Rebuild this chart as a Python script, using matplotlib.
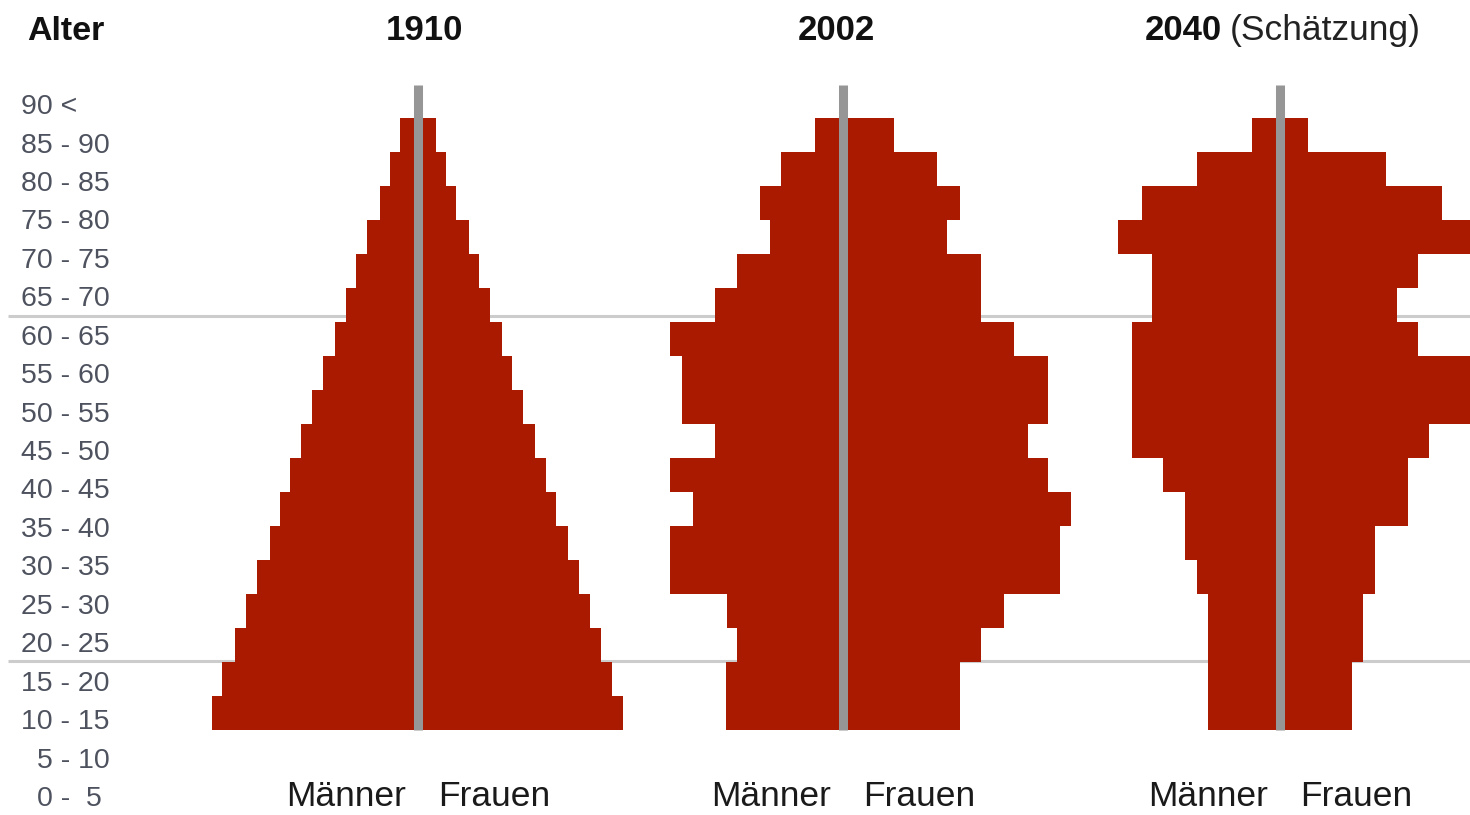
import matplotlib
matplotlib.use("Agg")
import matplotlib.pyplot as plt
from matplotlib import font_manager
from matplotlib.transforms import blended_transform_factory
import numpy as np

# ---------------- data (relative population per 5-year group, bottom-up: 0-5 ... 85-90)
age_starts = list(range(0, 90, 5))
age_labels = ["0 -  5", "5 - 10", "10 - 15", "15 - 20", "20 - 25", "25 - 30", "30 - 35",
              "35 - 40", "40 - 45", "45 - 50", "50 - 55", "55 - 60", "60 - 65",
              "65 - 70", "70 - 75", "75 - 80", "80 - 85", "85 - 90", "90 <"]
years = ["1910", "2002", "2040"]
year_notes = ["", "", "(Schätzung)"]

men_1910 = [206, 196, 183.5, 172.5, 162, 149, 139, 128.5, 117, 106, 95, 83, 72.5, 62.5, 51, 38.5, 28.5, 18]
women_1910 = [205, 194, 183, 171.5, 161, 150, 138, 127.5, 116.5, 105, 94, 84, 71.5, 61, 51, 38, 28, 17.5]

men_2002 = [117.5, 117.5, 106, 116, 173, 173, 150, 173, 128.5, 161, 161, 173, 128.5, 106, 73.5, 83, 62.5, 28.5]
women_2002 = [116.5, 116.5, 138, 160.5, 216.5, 216.5, 228, 205, 185, 205, 205, 171, 138, 138, 104, 116.5, 94, 50.5]

men_2040 = [71.7, 71.7, 71.7, 71.7, 83.3, 95, 95, 116.7, 148.3, 148.3, 148.3, 148.3, 128.3, 128.3, 161.7, 138.3, 83.3, 27.7]
women_2040 = [71.7, 71.7, 83.3, 83.3, 95, 95, 128.3, 128.3, 149.3, 200, 200, 138.3, 116.7, 138.3, 200, 161.7, 105.7, 28.3]

men = [men_1910, men_2002, men_2040]
women = [women_1910, women_2002, women_2040]

# ---------------- layout / style
W, H = 1470, 815
centers = [418.5, 843.5, 1280]
BAR = "#aa1a00"
CENTER_LINE = "#969696"
GRID = "#cccccc"
LABEL = "#4d525e"


def pick_font(cands):
    names = {f.name for f in font_manager.fontManager.ttflist}
    for c in cands:
        if c in names:
            return c
    return "DejaVu Sans"


FONT = pick_font(["Liberation Sans", "Arial", "DejaVu Sans"])
plt.rcParams["font.family"] = [FONT, "DejaVu Sans"]

fig = plt.figure(figsize=(W / 100, H / 100), dpi=100)
ax = fig.add_axes([0, 0, 1, 1])
ax.set_xlim(0, W)
# age 0 sits at pixel 730 from top, 6.8 px per year
px_per_year = 6.8
y0_px = H - 730
ax.set_ylim(-y0_px / px_per_year, (H - y0_px) / px_per_year)
ax.axis("off")

# label positions (in age units) - labels are spaced slightly wider than the bars
label_step = 38.44 / px_per_year
label_first = (730 - 796) / px_per_year
label_pos = [label_first + i * label_step for i in range(len(age_labels))]

# horizontal separator lines (between 15-20/20-25 and 60-65/65-70 labels)
for i in (3, 12):
    yl = (label_pos[i] + label_pos[i + 1]) / 2
    ax.hlines(yl, 8, W, color=GRID, lw=2.2, zorder=1)

for c, m, f in zip(centers, men, women):
    ax.barh(age_starts, -np.array(m), left=c, height=5, align="edge",
            color=BAR, linewidth=0, zorder=2)
    ax.barh(age_starts, np.array(f), left=c, height=5, align="edge",
            color=BAR, linewidth=0, zorder=2)
    ax.vlines(c, 0, (730 - 85) / px_per_year, color=CENTER_LINE, lw=6.5, zorder=3)

# age labels
for lab, yp in zip(age_labels, label_pos):
    x = 21
    if lab.startswith(("0 ", "5 ")):
        x = 37
    ax.text(x, yp, lab, ha="left", va="center_baseline", fontsize=20.5,
            color=LABEL)

# titles
tr = blended_transform_factory(ax.transData, fig.transFigure)
ty = 1 - 40 / H
ax.text(27, ty, "Alter", transform=tr, ha="left", va="baseline", fontsize=24.5,
        fontweight="bold", color="#111111")
title_x = [424, 836, 1185]
for x, yr, note in zip(title_x, years, year_notes):
    if note:
        ax.text(1145, ty, yr, transform=tr, ha="left", va="baseline", fontsize=25,
                fontweight="bold", color="#111111")
        ax.text(1230, ty, note, transform=tr, ha="left", va="baseline", fontsize=25.5,
                color="#222222")
    else:
        ax.text(x, ty, yr, transform=tr, ha="center", va="baseline", fontsize=25,
                fontweight="bold", color="#111111")

# bottom sex labels
by = 1 - 806 / H
for c in centers:
    ax.text(c - 12, by, "Männer", transform=tr, ha="right", va="baseline",
            fontsize=25.5, color="#1a1a1a")
    ax.text(c + 20, by, "Frauen", transform=tr, ha="left", va="baseline",
            fontsize=25.5, color="#1a1a1a")

fig.savefig("out.png", dpi=100)
